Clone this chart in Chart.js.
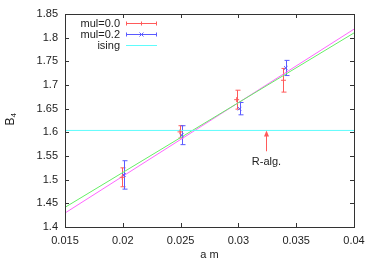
<!DOCTYPE html>
<html lang="en">
<head>
<meta charset="UTF-8">
<title>B4 vs a m</title>
<script src="https://cdn.jsdelivr.net/npm/chart.js@4/dist/chart.umd.min.js"></script>
<style>
    html, body { margin: 0; padding: 0; background: #fff; }
    #wrap { width: 374px; height: 262px; }
</style>
</head>
<body>
<div id="wrap"><canvas id="chart" width="374" height="262"></canvas></div>
<script>
// data
const amRed = [0.01995, 0.02495, 0.02985, 0.0339];
const b4Red = [1.505, 1.601, 1.669, 1.710];
const errRed = [0.020, 0.013, 0.020, 0.025];

const amBlue = [0.0201, 0.0251, 0.0301, 0.0341];
const b4Blue = [1.510, 1.594, 1.650, 1.736];
const errBlue = [0.030, 0.020, 0.013, 0.016];

const fitX = [0.015, 0.04];
const fitGreen = [1.4415, 1.810];
const fitMagenta = [1.4295, 1.818];
const isingB4 = 1.604;

const xTicks = [0.015, 0.02, 0.025, 0.03, 0.035, 0.04];
const yTicks = [1.4, 1.45, 1.5, 1.55, 1.6, 1.65, 1.7, 1.75, 1.8, 1.85];

const arrowX = 0.0324, arrowFrom = 1.56, arrowLabel = 'R-alg.';

const RED = '#ff5a5a', BLUE = '#5a5aff', CYAN = '#5ffcfc', GREEN = '#66ee66', MAGENTA = '#ff66ff';
const FONT = '"Liberation Sans", Arial, sans-serif';

const pts = (xs, ys) => xs.map((x, i) => ({ x: x, y: ys[i] }));

const errs = { 0: errRed, 1: errBlue };

const extras = {
    id: 'extras',
    beforeDatasetsDraw(chart) {
        const c = chart.ctx, xs = chart.scales.x, ys = chart.scales.y;
        c.save();
        c.lineWidth = 1;
        [0, 1].forEach(di => {
            const ds = chart.data.datasets[di];
            c.strokeStyle = ds.borderColor;
            ds.data.forEach((p, i) => {
                const px = Math.round(xs.getPixelForValue(p.x)) + 0.5;
                const y1 = ys.getPixelForValue(p.y + errs[di][i]);
                const y2 = ys.getPixelForValue(p.y - errs[di][i]);
                c.beginPath();
                c.moveTo(px, y1); c.lineTo(px, y2);
                c.moveTo(px - 2, y1); c.lineTo(px + 3, y1);
                c.moveTo(px - 2, y2); c.lineTo(px + 3, y2);
                c.stroke();
            });
        });
        c.restore();
    },
    afterDraw(chart) {
        const c = chart.ctx, a = chart.chartArea, xs = chart.scales.x, ys = chart.scales.y;
        c.save();
        // frame and inward ticks
        c.strokeStyle = '#333';
        c.lineWidth = 1;
        c.strokeRect(Math.round(a.left) + 0.5, Math.round(a.top) + 0.5, Math.round(a.right - a.left), Math.round(a.bottom - a.top));
        c.beginPath();
        xTicks.forEach(v => {
            const px = Math.round(xs.getPixelForValue(v)) + 0.5;
            c.moveTo(px, a.bottom); c.lineTo(px, a.bottom - 4);
            c.moveTo(px, a.top); c.lineTo(px, a.top + 4);
        });
        yTicks.forEach(v => {
            const py = Math.round(ys.getPixelForValue(v)) + 0.5;
            c.moveTo(a.left, py); c.lineTo(a.left + 4, py);
            c.moveTo(a.right, py); c.lineTo(a.right - 4, py);
        });
        c.stroke();

        // arrow
        const ax = Math.round(xs.getPixelForValue(arrowX)) + 0.5;
        const ay1 = ys.getPixelForValue(arrowFrom), ay2 = ys.getPixelForValue(isingB4);
        c.strokeStyle = RED; c.fillStyle = RED;
        c.beginPath(); c.moveTo(ax, ay1); c.lineTo(ax, ay2 + 3); c.stroke();
        c.beginPath(); c.moveTo(ax, ay2); c.lineTo(ax - 2.5, ay2 + 6); c.lineTo(ax + 2.5, ay2 + 6); c.closePath(); c.fill();
        c.fillStyle = '#222';
        c.font = '11px ' + FONT;
        c.textAlign = 'center'; c.textBaseline = 'middle';
        c.fillText(arrowLabel, ax, ay1 + 11);

        // legend
        const rows = [
            { t: 'mul=0.0', col: RED, err: true, mark: 'plus' },
            { t: 'mul=0.2', col: BLUE, err: true, mark: 'x' },
            { t: 'ising', col: CYAN, err: false }
        ];
        rows.forEach((r, i) => {
            const y = 23.5 + i * 11;
            c.fillStyle = '#222';
            c.textAlign = 'right';
            c.fillText(r.t, 120, y);
            c.strokeStyle = r.col;
            c.beginPath();
            c.moveTo(126, y); c.lineTo(157, y);
            if (r.err) {
                c.moveTo(126.5, y - 2); c.lineTo(126.5, y + 2);
                c.moveTo(156.5, y - 2); c.lineTo(156.5, y + 2);
                if (r.mark === 'plus') {
                    c.moveTo(141.5, y - 2); c.lineTo(141.5, y + 2);
                } else {
                    c.moveTo(139.5, y - 2); c.lineTo(143.5, y + 2);
                    c.moveTo(139.5, y + 2); c.lineTo(143.5, y - 2);
                }
            }
            c.stroke();
        });

        // y label B_4
        c.translate(11, (a.top + a.bottom) / 2);
        c.rotate(-Math.PI / 2);
        c.fillStyle = '#222';
        c.textAlign = 'left';
        c.font = '12px ' + FONT;
        c.fillText('B', -5, 0);
        c.font = '8px ' + FONT;
        c.fillText('4', 3, 3);
        c.restore();
    }
};

new Chart(document.getElementById('chart'), {
    type: 'scatter',
    data: {
        datasets: [
            { label: 'mul=0.0', data: pts(amRed, b4Red), borderColor: RED, backgroundColor: RED,
              pointStyle: 'cross', pointRadius: 2.5, borderWidth: 1, showLine: false },
            { label: 'mul=0.2', data: pts(amBlue, b4Blue), borderColor: BLUE, backgroundColor: BLUE,
              pointStyle: 'crossRot', pointRadius: 2.5, borderWidth: 1, showLine: false },
            { label: 'ising', data: pts(fitX, [isingB4, isingB4]), borderColor: CYAN,
              showLine: true, pointRadius: 0, borderWidth: 1 },
            { label: 'fit 1', data: pts(fitX, fitGreen), borderColor: GREEN,
              showLine: true, pointRadius: 0, borderWidth: 1 },
            { label: 'fit 2', data: pts(fitX, fitMagenta), borderColor: MAGENTA,
              showLine: true, pointRadius: 0, borderWidth: 1 }
        ]
    },
    options: {
        responsive: false,
        animation: false,
        layout: { padding: { left: 0, right: 20, top: 14, bottom: 0 } },
        plugins: { legend: { display: false }, tooltip: { enabled: false } },
        scales: {
            x: {
                type: 'linear', min: 0.015, max: 0.04,
                afterBuildTicks: s => { s.ticks = xTicks.map(v => ({ value: v })); },
                afterFit: s => { s.height = 35; },
                grid: { display: false, drawTicks: false }, border: { display: false },
                ticks: { color: '#222', font: { family: FONT, size: 11 }, padding: 7,
                         callback: v => String(parseFloat(v.toFixed(3))) },
                title: { display: true, text: 'a m', color: '#222', font: { family: FONT, size: 11 }, padding: { top: 3, bottom: 0 } }
            },
            y: {
                type: 'linear', min: 1.4, max: 1.85,
                afterBuildTicks: s => { s.ticks = yTicks.map(v => ({ value: v })); },
                afterFit: s => { s.width = 65; },
                grid: { display: false, drawTicks: false }, border: { display: false },
                ticks: { color: '#222', font: { family: FONT, size: 11 }, padding: 7,
                         callback: v => String(parseFloat(v.toFixed(2))) }
            }
        }
    },
    plugins: [extras]
});
</script>
</body>
</html>
